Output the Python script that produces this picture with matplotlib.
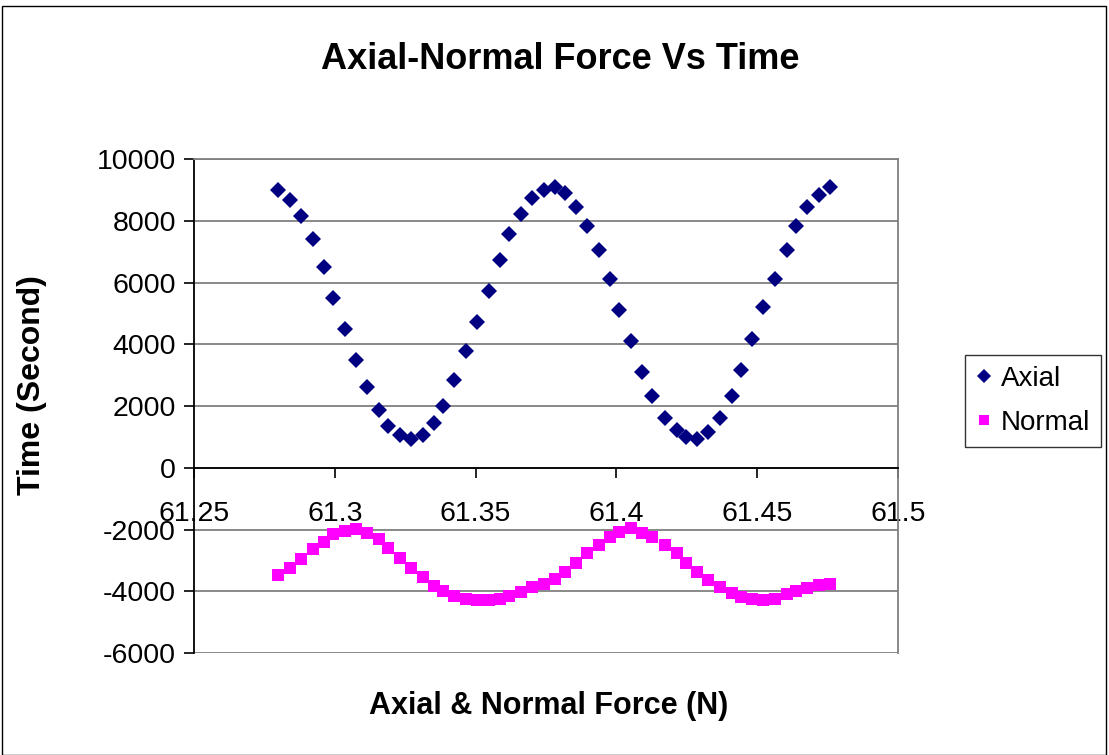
import matplotlib.pyplot as plt
from matplotlib.patches import Rectangle

plt.rcParams['font.family'] = ['Liberation Sans', 'DejaVu Sans']
plt.rcParams['axes.unicode_minus'] = False

force = [61.2800, 61.2841, 61.2880, 61.2922, 61.2962, 61.2995, 61.3036, 61.3075,
         61.3115, 61.3157, 61.3190, 61.3232, 61.3271, 61.3312, 61.3352, 61.3385,
         61.3424, 61.3466, 61.3506, 61.3548, 61.3587, 61.3620, 61.3660, 61.3700,
         61.3743, 61.3783, 61.3816, 61.3857, 61.3897, 61.3937, 61.3977, 61.4010,
         61.4052, 61.4092, 61.4125, 61.4172, 61.4214, 61.4246, 61.4287, 61.4326,
         61.4368, 61.4409, 61.4441, 61.4482, 61.4522, 61.4563, 61.4605, 61.4637,
         61.4678, 61.4719, 61.4759]

axial = [8981, 8657, 8139, 7417, 6500, 5496, 4492, 3475, 2614, 1856, 1360, 1069,
         930, 1069, 1448, 1985, 2850, 3767, 4706, 5733, 6737, 7579, 8217, 8745,
         8981, 9091, 8897, 8444, 7815, 7038, 6112, 5117, 4091, 3100, 2309, 1610,
         1231, 981, 930, 1156, 1610, 2309, 3174, 4168, 5192, 6112, 7038, 7815,
         8444, 8819, 9078]

normal = [-3466, -3239, -2947, -2623, -2397, -2138, -2040, -1976, -2105, -2300,
          -2591, -2915, -3239, -3530, -3822, -3984, -4146, -4243, -4275, -4275,
          -4243, -4146, -4016, -3854, -3757, -3595, -3368, -3077, -2753, -2494,
          -2235, -2073, -1943, -2105, -2235, -2494, -2753, -3077, -3368, -3627,
          -3854, -4049, -4178, -4243, -4275, -4243, -4081, -3984, -3887, -3789,
          -3757]

xticks = [61.25, 61.3, 61.35, 61.4, 61.45, 61.5]
xticklabels = ['61.25', '61.3', '61.35', '61.4', '61.45', '61.5']
yticks = [-6000, -4000, -2000, 0, 2000, 4000, 6000, 8000, 10000]

fig = plt.figure(figsize=(11.09, 7.55), dpi=100)
ax = fig.add_axes([0.1749, 0.1351, 0.6348, 0.6543])

ax.plot(force, axial, linestyle='none', marker='D', markersize=8.5,
        markeredgewidth=0, color='#000080', label='Axial')
ax.plot(force, normal, linestyle='none', marker='s', markersize=8.5,
        markeredgewidth=0, color='#FF00FF', label='Normal')

ax.set_xlim(61.25, 61.5)
ax.set_ylim(-6000, 10000)
ax.set_xticks(xticks)
ax.set_xticklabels(xticklabels)
ax.set_yticks(yticks)
ax.yaxis.grid(True, color='#808080', linewidth=1.3)
ax.set_axisbelow(True)

ax.spines['bottom'].set_position(('data', 0))
ax.spines['bottom'].set_color('black')
ax.spines['left'].set_color('black')
ax.spines['top'].set_color('#808080')
ax.spines['right'].set_color('#808080')
for s in ax.spines.values():
    s.set_linewidth(1.3)

ax.tick_params(axis='both', direction='out', length=7, width=1.2, labelsize=20.5)
ax.tick_params(axis='x', pad=17)
ax.tick_params(axis='y', pad=6)

fig.text(0.505, 0.921, 'Axial-Normal Force Vs Time', ha='center', va='center',
         fontsize=26, fontweight='bold')
fig.text(0.029, 0.49, 'Time (Second)', ha='center', va='center', rotation=90,
         fontsize=23, fontweight='bold')
fig.text(0.495, 0.065, 'Axial & Normal Force (N)', ha='center', va='center',
         fontsize=22, fontweight='bold')

leg = fig.legend(loc='upper left', bbox_to_anchor=(0.870, 0.5298), fontsize=20,
                 frameon=True, fancybox=False, edgecolor='black', borderaxespad=0,
                 handlelength=0.6, handletextpad=0.3, labelspacing=0.65,
                 borderpad=0.4, markerscale=0.85)
leg.get_frame().set_linewidth(1.0)

fig.patches.append(Rectangle((0.002, 0.0), 0.995, 0.992, transform=fig.transFigure,
                             fill=False, edgecolor='black', linewidth=1.0))

fig.savefig('out.png', dpi=100)
